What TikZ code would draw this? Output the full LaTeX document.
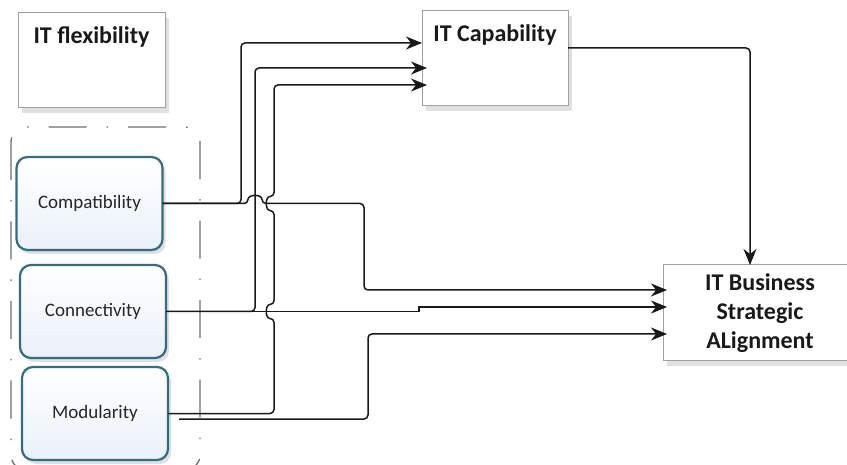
\documentclass[tikz,border=0pt]{standalone}
\usepackage{fontspec}
\setmainfont{Carlito}
\usetikzlibrary{arrows.meta,shadows}
\definecolor{boxedge}{RGB}{52,108,132}
\definecolor{boxfill}{RGB}{234,241,250}
\definecolor{wirecol}{RGB}{25,25,25}
\definecolor{plainedge}{RGB}{160,160,160}
\definecolor{groupedge}{RGB}{110,110,110}
\tikzset{
  plainbox/.style={draw=plainedge, line width=1pt, fill=white, outer sep=0pt, inner sep=0pt,
    drop shadow={shadow xshift=4pt, shadow yshift=-5pt, opacity=0.12, fill=black}},
  factorbox/.style={draw=boxedge, line width=2.2pt, rounded corners=11pt, outer sep=0pt,
    top color=white, bottom color=boxfill, minimum width=146pt, minimum height=93pt,
    font=\fontsize{19}{22}\selectfont, text=black!85,
    drop shadow={shadow xshift=3pt, shadow yshift=-4pt, opacity=0.12, fill=black}},
  boldtext/.style={font=\bfseries\fontsize{24}{29}\selectfont, text=black!90, align=center},
  wire/.style={draw=wirecol, line width=1.5pt, rounded corners=4pt},
  arr/.style={-{Stealth[length=16pt,width=13pt,inset=5pt]}},
  groupline/.style={draw=groupedge, line width=1.3pt, rounded corners=15pt,
    dash pattern=on 38pt off 20pt on 1.5pt off 20pt}
}
\begin{document}
\begin{tikzpicture}[x=1pt,y=-1pt]
\useasboundingbox (0,0) rectangle (847,465);
\fill[white] (0,0) rectangle (847,465);

% group outline
\draw[groupline] (11,127) rectangle (200,470);

% top-level boxes
\node[plainbox, minimum width=147pt, minimum height=95pt,
  label={[boldtext, anchor=north, yshift=-10pt]north:IT flexibility}] (flex) at (91.5,60.5) {};
\node[plainbox, minimum width=146pt, minimum height=95pt,
  label={[boldtext, anchor=north, yshift=-10pt]north:IT Capability}] (cap) at (495,58.5) {};
\node[plainbox, minimum width=194pt, minimum height=96pt, boldtext] (itb) at (760,313)
  {IT Business\\Strategic\\ALignment};

% factor boxes
\node[factorbox] (comp) at (89.5,203.5) {Compatibility};
\node[factorbox] (conn) at (93,311.5) {Connectivity};
\node[factorbox] (mod) at (95,413.5) {Modularity};

% connectors to IT Capability
\draw[wire, arr] (comp.east) -- (241,0 |- comp.east) -- (241,43) -- (cap.west |- 0,43);
\draw[wire, arr] (conn.east) -- (255,0 |- conn.east) -- (255,68) -- ([xshift=5pt]cap.west |- 0,68);
\draw[wire, arr] (mod.east) -- (274,0 |- mod.east) -- (274,318.5)
  .. controls (265,318.5) and (265,304.5) .. (274,304.5) -- (274,210.5)
  .. controls (265,210.5) and (265,196.5) .. (274,196.5) -- (274,85) -- ([xshift=5pt]cap.west |- 0,85);

% connectors to IT Business Strategic Alignment
\draw[wire, arr] (comp.east) -- (248,0 |- comp.east)
  .. controls (248,194) and (262,194) .. (262,0 |- comp.east) -- (364,0 |- comp.east) -- (364,290) -- ([xshift=4pt]itb.west |- 0,290);
\draw[wire, arr, sharp corners] (conn.east) -- (419,0 |- conn.east) -- (419,307) -- ([xshift=4pt]itb.west |- 0,307);
\draw[wire, arr] ([xshift=11pt,yshift=-5.5pt]mod.east) -- (368,419) -- (368,334) -- ([xshift=4pt]itb.west |- 0,334);
\draw[wire, arr] (cap.east |- 0,48) -- (750,48) -- (750,0 |- itb.north);
\end{tikzpicture}
\end{document}
